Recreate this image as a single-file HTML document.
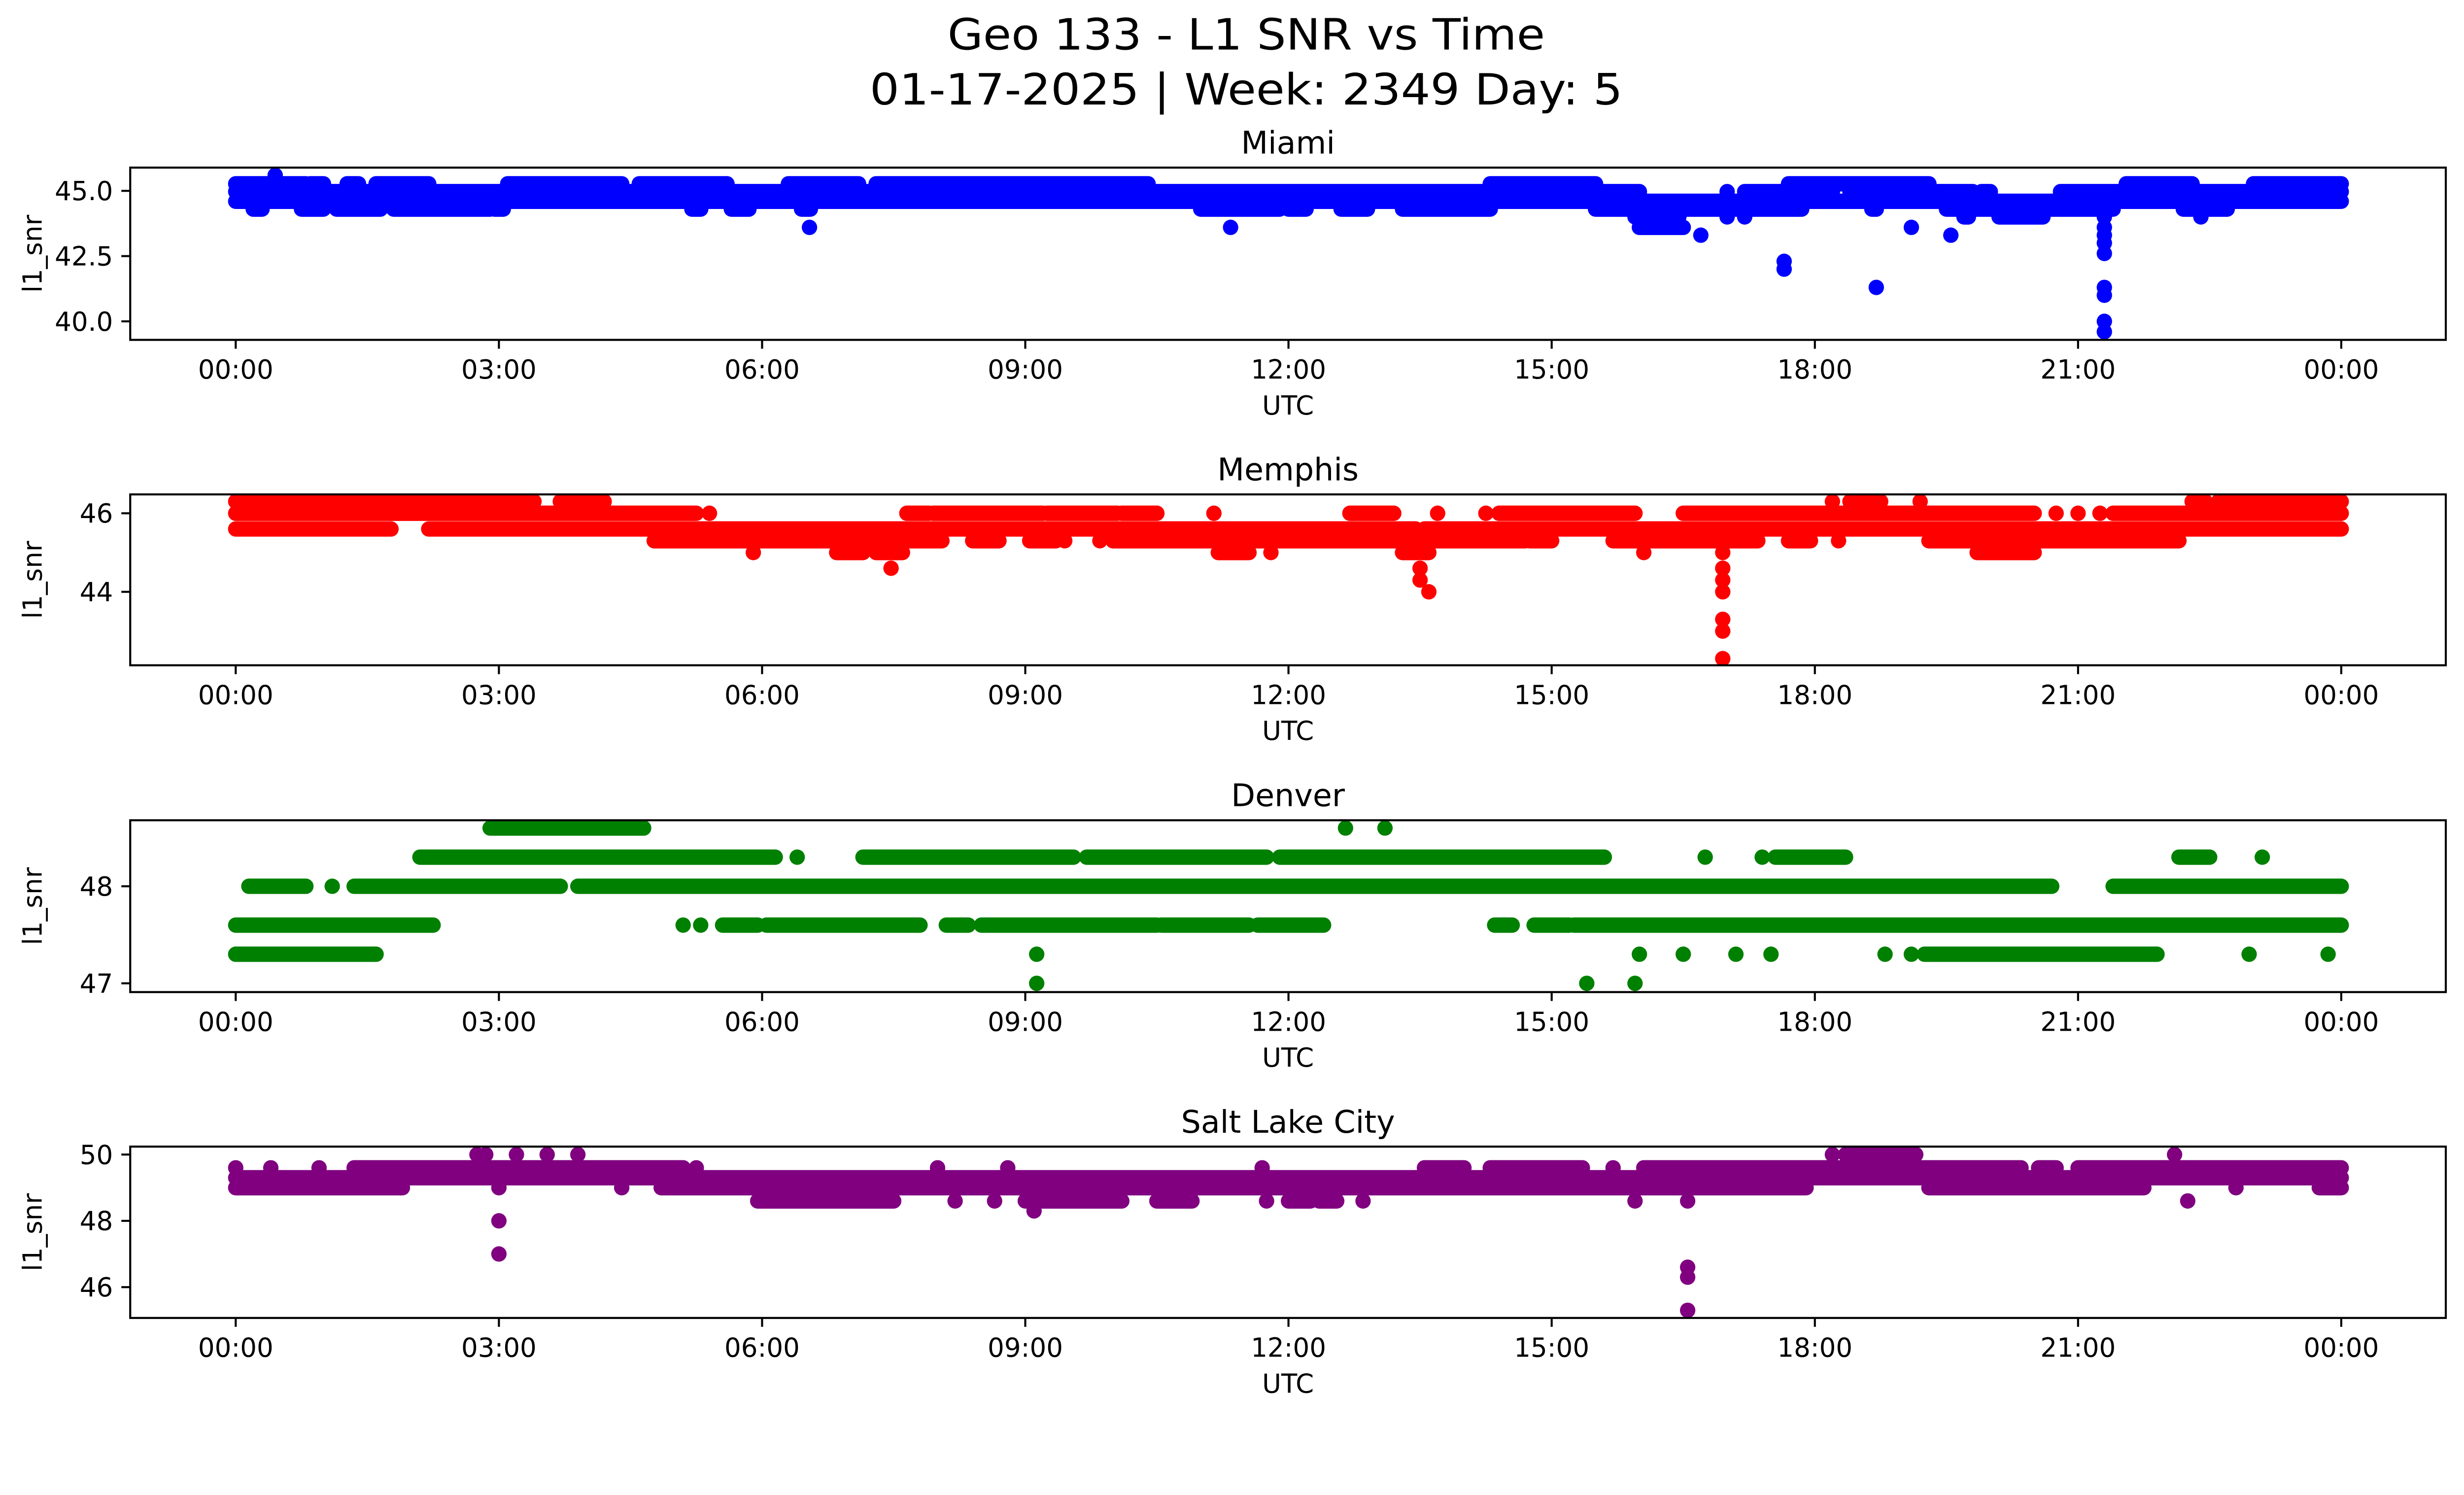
<!DOCTYPE html>
<html><head><meta charset="utf-8">
<style>
html,body{margin:0;padding:0;background:#fff;overflow:hidden;}
svg{display:block;width:100vw;height:auto;}
text{font-family:"DejaVu Sans","Liberation Sans",sans-serif;fill:#000;font-stretch:normal;}
</style></head>
<body>
<svg id="fig" viewBox="0 0 5279 3033" xmlns="http://www.w3.org/2000/svg">
<rect x="0" y="0" width="5279" height="3033" fill="#fff"/>
<text x="2670" y="106" font-size="92" text-anchor="middle" textLength="1280" lengthAdjust="spacingAndGlyphs">Geo 133 - L1 SNR vs Time</text>
<text x="2670" y="224" font-size="92" text-anchor="middle" textLength="1613" lengthAdjust="spacingAndGlyphs">01-17-2025 | Week: 2349 Day: 5</text>
</svg>
<script>
// ---- data: runs of points (start hour, end hour, l1_snr value) ----
const xTickLabels = ["00:00","03:00","06:00","09:00","12:00","15:00","18:00","21:00","00:00"];
const xTickHours = [0,3,6,9,12,15,18,21,24];

const miamiStart = [0,0.85,1.27,1.6,3.1,4.6,6.3,7.3,14.3,17.7,21.55,23.0, 0.45, 0,17.0,17.2,18.4,19.9,20.8, 0, 0.2,0.75,1.15,1.8,2.95,5.2,5.65,6.45,11.0,12,12.6,13.3,15.5,18.65,19.5,22.2, 15.95,17.0,17.2,19.7,20.1,21.3,22.4, 6.54,11.34,16.0,19.1,21.3, 16.7,19.55,21.3, 21.3,21.3,17.65,17.65,18.7,21.3,21.3,21.3,21.3];
const miamiEnd   = [0.8,1.0,1.4,2.2,4.4,5.6,7.1,10.4,15.5,19.3,22.3,24, 0.45, 16.0,17.0,18.2,19.8,20.0,24, 24, 0.3,1.0,1.65,2.9,3.05,5.3,5.85,6.55,11.9,12.2,12.9,14.3,17.85,18.7,21.4,22.7, 16.45,17.0,17.2,19.75,20.6,21.3,22.4, 6.54,11.34,16.5,19.1,21.3, 16.7,19.55,21.3, 21.3,21.3,17.65,17.65,18.7,21.3,21.3,21.3,21.3];
const miamiValue = [45.27,45.27,45.27,45.27,45.27,45.27,45.27,45.27,45.27,45.27,45.27,45.27, 45.6, 44.97,44.97,44.97,44.97,44.97,44.97, 44.6, 44.3,44.3,44.3,44.3,44.3,44.3,44.3,44.3,44.3,44.3,44.3,44.3,44.3,44.3,44.3,44.3, 44.0,44.0,44.0,44.0,44.0,44.0,44.0, 43.6,43.6,43.6,43.6,43.6, 43.3,43.3,43.3, 43.0,42.6,42.3,42.0,41.3,41.3,41.0,40.0,39.6];

const memphisStart = [0,3.7,18.2,18.4,19.2,22.3,22.6, 0,5.4,7.65,7.95,9.25,10.1,11.15,12.7,13.7,14.25,14.4,16.5,20.75,21.0,21.25,21.4, 0,2.2,13.55, 4.77,8.4,9.05,9.45,9.85,10.0,14.75,15.7,17.7,18.27,19.3, 5.9,6.85,7.3,11.2,11.8,13.3,16.05,16.95,19.85, 7.47,13.5,16.95, 13.5,16.95, 13.6,16.95, 16.95,16.95,16.95];
const memphisEnd   = [3.4,4.2,18.2,18.75,19.2,22.45,24, 5.25,5.4,7.9,9.2,10.05,10.5,11.15,13.2,13.7,14.25,15.95,20.5,20.75,21.0,21.25,24, 1.77,13.45,24, 8.05,8.7,9.35,9.45,9.85,14.7,15.0,17.35,17.95,18.27,22.15, 5.9,7.15,7.6,11.55,11.8,13.6,16.05,16.95,20.5, 7.47,13.5,16.95, 13.5,16.95, 13.6,16.95, 16.95,16.95,16.95];
const memphisValue = [46.3,46.3,46.3,46.3,46.3,46.3,46.3, 46.0,46.0,46.0,46.0,46.0,46.0,46.0,46.0,46.0,46.0,46.0,46.0,46.0,46.0,46.0,46.0, 45.6,45.6,45.6, 45.3,45.3,45.3,45.3,45.3,45.3,45.3,45.3,45.3,45.3,45.3, 45.0,45.0,45.0,45.0,45.0,45.0,45.0,45.0,45.0, 44.6,44.6,44.6, 44.3,44.3, 44.0,44.0, 43.3,43.0,42.3];

const denverStart = [2.9,12.65,13.1, 2.1,6.4,7.15,9.7,11.9,16.75,17.4,17.55,22.15,23.1, 0.15,1.1,1.35,3.9,21.4, 0,5.1,5.3,5.55,6.05,8.1,8.5,10.55,11.65,14.35,14.8,15.25, 0,9.13,16.0,16.5,17.1,17.5,18.8,19.1,19.25,22.95,23.85, 9.13,15.4,15.95];
const denverEnd   = [4.65,12.65,13.1, 6.15,6.4,9.55,11.75,15.6,16.75,17.4,18.35,22.5,23.1, 0.8,1.1,3.7,20.7,24, 2.25,5.1,5.3,5.95,7.8,8.35,10.5,11.55,12.4,14.55,15.2,24, 1.6,9.13,16.0,16.5,17.1,17.5,18.8,19.1,21.9,22.95,23.85, 9.13,15.4,15.95];
const denverValue = [48.6,48.6,48.6, 48.3,48.3,48.3,48.3,48.3,48.3,48.3,48.3,48.3,48.3, 48.0,48.0,48.0,48.0,48.0, 47.6,47.6,47.6,47.6,47.6,47.6,47.6,47.6,47.6,47.6,47.6,47.6, 47.3,47.3,47.3,47.3,47.3,47.3,47.3,47.3,47.3,47.3,47.3, 47.0,47.0,47.0];

const slcStart = [2.75,2.85,3.2,3.55,3.9,18.2,18.35,22.1, 0,0.4,0.95,1.35,5.25,8.0,8.8,11.7,13.55,14.3,15.7,16.05,20.55,21.0, 0, 0,3.0,4.4,4.85,19.3,22.8,23.75, 5.95,8.2,8.65,9.0,10.5,11.75,12.0,12.35,12.85,15.95,16.55,22.25, 9.1,3.0,3.0,16.55,16.55,16.55];
const slcEnd   = [2.75,2.85,3.2,3.55,3.9,18.2,19.15,22.1, 0,0.4,0.95,5.1,5.25,8.0,8.8,11.7,14.0,15.35,15.7,20.35,20.75,24, 24, 1.9,3.0,4.4,17.9,21.75,22.8,24, 7.5,8.2,8.65,10.1,10.9,11.75,12.25,12.55,12.85,15.95,16.55,22.25, 9.1,3.0,3.0,16.55,16.55,16.55];
const slcValue = [50.0,50.0,50.0,50.0,50.0,50.0,50.0,50.0, 49.6,49.6,49.6,49.6,49.6,49.6,49.6,49.6,49.6,49.6,49.6,49.6,49.6,49.6, 49.3, 49.0,49.0,49.0,49.0,49.0,49.0,49.0, 48.6,48.6,48.6,48.6,48.6,48.6,48.6,48.6,48.6,48.6,48.6,48.6, 48.3,48.0,47.0,46.6,46.3,45.3];

const miamiTicks = [45.0,42.5,40.0];
const miamiTickLabels = ["45.0","42.5","40.0"];
const memphisTicks = [46,44];
const memphisTickLabels = ["46","44"];
const denverTicks = [48,47];
const denverTickLabels = ["48","47"];
const slcTicks = [50,48,46];
const slcTickLabels = ["50","48","46"];

// ---- layout ----
const NS = "http://www.w3.org/2000/svg";
const svg = document.getElementById("fig");
const AX_L = 279, AX_R = 5240;
const X0 = 505, X24 = 5016;
function xScale(h){ return X0 + (X24 - X0) * h / 24; }
function mk(tag, attrs, parent){
  const e = document.createElementNS(NS, tag);
  for (const k in attrs) e.setAttribute(k, attrs[k]);
  (parent || svg).appendChild(e);
  return e;
}
const R = 16.5;

const panels = [
  {key:"miami", title:"Miami", color:"#0000ff", top:359, bottom:728, ymin:39.29, ymax:45.89,
   start:miamiStart, end:miamiEnd, val:miamiValue, ticks:miamiTicks, tickLabels:miamiTickLabels},
  {key:"memphis", title:"Memphis", color:"#ff0000", top:1059, bottom:1425, ymin:42.13, ymax:46.48,
   start:memphisStart, end:memphisEnd, val:memphisValue, ticks:memphisTicks, tickLabels:memphisTickLabels},
  {key:"denver", title:"Denver", color:"#008000", top:1757, bottom:2125, ymin:46.91, ymax:48.68,
   start:denverStart, end:denverEnd, val:denverValue, ticks:denverTicks, tickLabels:denverTickLabels},
  {key:"salt-lake-city", title:"Salt Lake City", color:"#800080", top:2456, bottom:2823, ymin:45.07, ymax:50.24,
   start:slcStart, end:slcEnd, val:slcValue, ticks:slcTicks, tickLabels:slcTickLabels}
];

panels.forEach(p => {
  const g = mk("g", {});
  
  
  const yScale = v => p.bottom - (v - p.ymin) / (p.ymax - p.ymin) * (p.bottom - p.top);

  const cp = mk("clipPath", {id:"clip-" + p.key}, g);
  mk("rect", {x:AX_L, y:p.top, width:AX_R-AX_L, height:p.bottom-p.top}, cp);
  const marks = mk("g", {"clip-path":"url(#clip-" + p.key + ")"}, g);
  
  

  for (let i = 0; i < p.val.length; i++){
    const x1 = xScale(p.start[i]) - R, x2 = xScale(p.end[i]) + R;
    const yc = yScale(p.val[i]);
    const r = mk("rect", {x:x1, y:yc-R, width:x2-x1, height:2*R, rx:R, ry:R, fill:p.color}, marks);
    
    
  }

  const fr = mk("rect", {x:AX_L, y:p.top, width:AX_R-AX_L, height:p.bottom-p.top, fill:"none", stroke:"#000", "stroke-width":4.4}, g);
  
  

  p.ticks.forEach((v, i) => {
    const y = yScale(v);
    const t = mk("line", {x1:AX_L-19, x2:AX_L, y1:y, y2:y, stroke:"#000", "stroke-width":4.4}, g);
    
    
    const lb = mk("text", {x:AX_L-37, y:y+20, "font-size":56, "text-anchor":"end"}, g);
    lb.textContent = p.tickLabels[i];
    
    
  });

  xTickHours.forEach((h, i) => {
    const x = xScale(h);
    const t = mk("line", {x1:x, x2:x, y1:p.bottom, y2:p.bottom+19, stroke:"#000", "stroke-width":4.4}, g);
    
    
    const lb = mk("text", {x:x, y:p.bottom+83, "font-size":56, "text-anchor":"middle"}, g);
    lb.textContent = xTickLabels[i];
    
    
  });

  const xl = mk("text", {x:(AX_L+AX_R)/2, y:p.bottom+160, "font-size":56, "text-anchor":"middle"}, g);
  xl.textContent = "UTC";
  
  

  const yc = (p.top + p.bottom) / 2;
  const yl = mk("text", {x:0, y:0, "font-size":56, "text-anchor":"middle", transform:"translate(89," + yc + ") rotate(-90)"}, g);
  yl.textContent = "l1_snr";
  
  

  const tt = mk("text", {x:(AX_L+AX_R)/2, y:p.top-30, "font-size":67, "text-anchor":"middle"}, g);
  tt.textContent = p.title;
  
  
});
</script>
</body></html>
